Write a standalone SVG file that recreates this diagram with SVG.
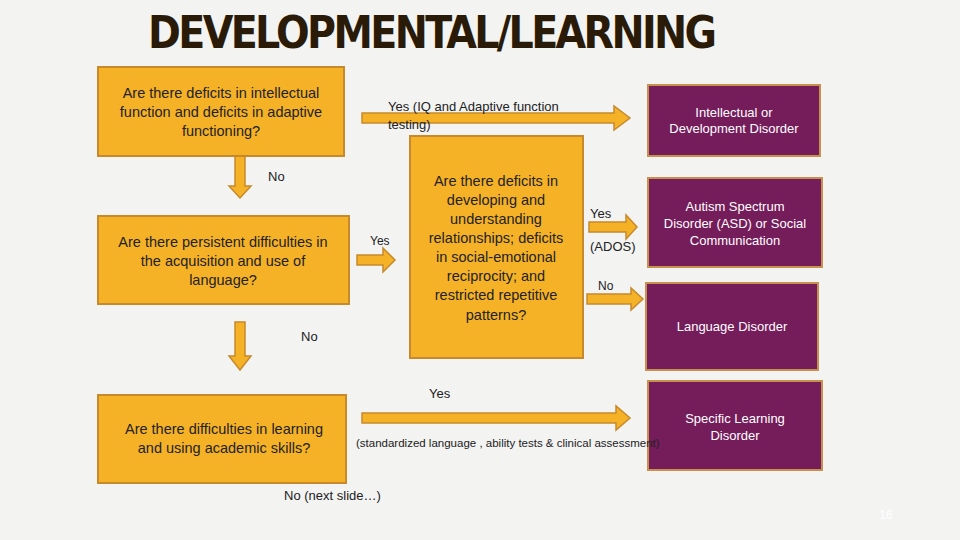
<svg xmlns="http://www.w3.org/2000/svg" width="960" height="540" viewBox="0 0 960 540">
<style>
.o{fill:#F6B226;stroke:#C68A2C;stroke-width:2}
.p{fill:#751C5B;stroke:#C8904E;stroke-width:2}
.a{fill:#F6B226;stroke:#C68A2C;stroke-width:1.5}
text{font-family:"Liberation Sans",Arial,sans-serif;font-size:14.5px;fill:#222;text-anchor:middle}
.w{fill:#fff;font-size:13px}
.s{font-size:13px;text-anchor:start}
</style>
<rect width="960" height="540" fill="#F3F3F2"/>
<text x="434" y="48" style="font-family:'DejaVu Sans Condensed','DejaVu Sans',sans-serif;font-weight:bold;font-size:44px;fill:#2A1B08;letter-spacing:3px" textLength="572">DEVELOPMENTAL/LEARNING</text>
<g id="connectors">
<path class="a" d="M362,113 H614 V106 L630,118 L614,130 V123 H362 Z"/>
<path class="a" d="M235,156 V186 H229 L240,198 L251,186 H245 V156 Z"/>
<path class="a" d="M235,322 V356 H229 L240,370 L251,356 H245 V322 Z"/>
<path class="a" d="M357,255 H383 V248 L395,260 L383,272 V265 H357 Z"/>
<path class="a" d="M589,222 H626 V215 L637,227 L626,239 V232 H589 Z"/>
<path class="a" d="M587,294 H631 V288 L643,299 L631,310 V304 H587 Z"/>
<path class="a" d="M362,413 H616 V406 L630,418 L616,430 V423 H362 Z"/>
</g>
<g id="b1"><rect class="o" x="98" y="67" width="246" height="89"/>
<text x="221" y="98">Are there deficits in intellectual</text><text x="221" y="117">function and deficits in adaptive</text><text x="221" y="136">functioning?</text></g>
<g id="b2"><rect class="o" x="98" y="216" width="251" height="88"/>
<text x="223" y="247">Are there persistent difficulties in</text><text x="223" y="266">the acquisition and use of</text><text x="223" y="285">language?</text></g>
<g id="b3"><rect class="o" x="410" y="136" width="173" height="222"/>
<text x="496" y="186">Are there deficits in</text><text x="496" y="205">developing and</text><text x="496" y="224">understanding</text><text x="496" y="243">relationships; deficits</text><text x="496" y="262">in social-emotional</text><text x="496" y="281">reciprocity; and</text><text x="496" y="300">restricted repetitive</text><text x="496" y="320">patterns?</text></g>
<g id="b4"><rect class="o" x="98" y="395" width="248" height="88"/>
<text x="224" y="434">Are there difficulties in learning</text><text x="224" y="453">and using academic skills?</text></g>
<g id="p1"><rect class="p" x="648" y="85" width="172" height="71"/>
<text class="w" x="734" y="117">Intellectual  or</text><text class="w" x="734" y="133">Development Disorder</text></g>
<g id="p2"><rect class="p" x="648" y="178" width="174" height="89"/>
<text class="w" x="735" y="211">Autism Spectrum</text><text class="w" x="735" y="228">Disorder (ASD) or Social</text><text class="w" x="735" y="245">Communication</text></g>
<g id="p3"><rect class="p" x="646" y="283" width="172" height="87"/>
<text class="w" x="732" y="331">Language Disorder</text></g>
<g id="p4"><rect class="p" x="648" y="381" width="174" height="89"/>
<text class="w" x="735" y="423">Specific Learning</text><text class="w" x="735" y="440">Disorder</text></g>
<text class="s" x="388" y="111">Yes (IQ and Adaptive function</text>
<text class="s" x="388" y="129">testing)</text>
<text class="s" x="268" y="181">No</text>
<text class="s" x="370" y="245" style="font-size:12px">Yes</text>
<text class="s" x="590" y="218">Yes</text>
<text class="s" x="590" y="251">(ADOS)</text>
<text class="s" x="598" y="290" style="font-size:12px">No</text>
<text class="s" x="301" y="341">No</text>
<text class="s" x="429" y="398">Yes</text>
<text class="s" x="356" y="447" style="font-size:11.5px">(standardized language , ability tests &amp; clinical assessment)</text>
<text class="s" x="284" y="500">No (next slide…)</text>
<text x="886" y="519" style="font-size:12px;fill:#fff">16</text>
</svg>
